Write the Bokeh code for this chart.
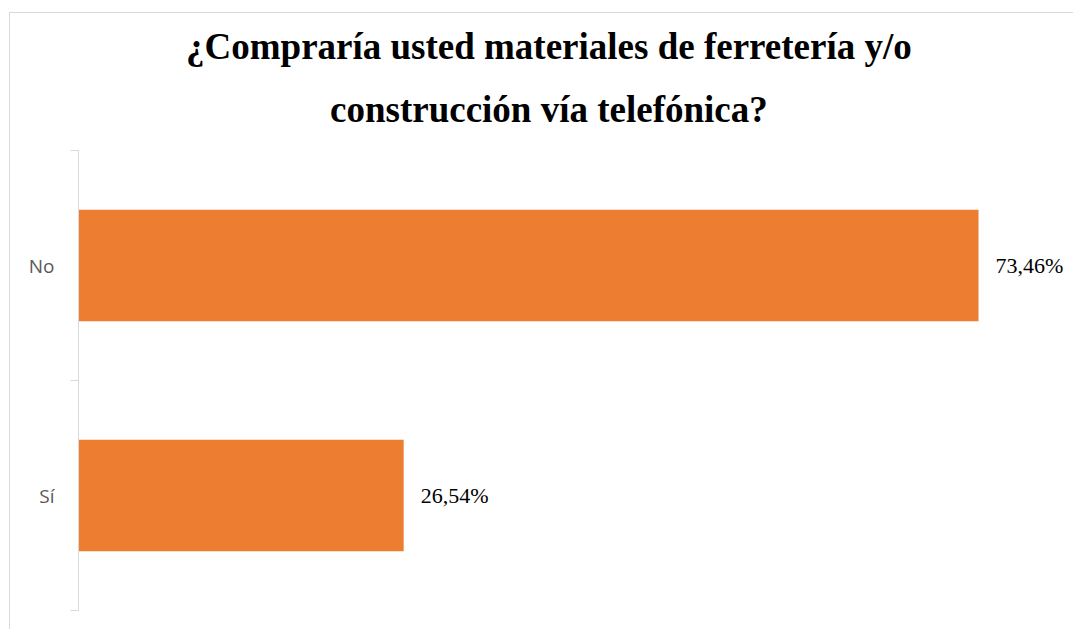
from bokeh.plotting import figure
from bokeh.models import (FactorRange, Range1d, LinearAxis, FixedTicker, ColumnDataSource,
                          LabelSet, CategoricalAxis, Title)
from bokeh.embed import file_html
from bokeh.resources import INLINE

categories = ["Sí", "No"]
values = [26.54, 73.46]
labels = ["26,54%", "73,46%"]
title_lines = ["¿Compraría usted materiales de ferretería y/o",
               "construcción vía telefónica?"]

src = ColumnDataSource(dict(cat=categories, val=values, lab=labels))

p = figure(width=1064, height=617, output_backend="svg", toolbar_location=None,
           y_range=FactorRange(factors=categories, range_padding=0),
           x_range=Range1d(0, 80.56),
           min_border_left=68, min_border_right=9, min_border_top=137, min_border_bottom=20,
           x_axis_location=None, y_axis_location=None)
p.margin = (12, 0, 0, 9)
p.styles = {"border-left": "1px solid #d9d9d9", "border-top": "1px solid #d9d9d9"}

# title: two centred lines, bottom line added first (stack grows outward);
# trailing no-break spaces shift the visual centre left onto the chart centre
pad = "\u00a0" * 5
for i, line in enumerate(reversed(title_lines)):
    p.add_layout(Title(text=line + pad, align="center", text_font="Liberation Serif",
                       text_font_style="bold", text_font_size="37px",
                       text_color="#000000", standoff=41 if i == 0 else 0,
                       text_line_height=1.0), "above")

p.hbar(y="cat", right="val", left=0, height=0.485, source=src,
       fill_color="#ED7D31", line_color=None)

lbl = LabelSet(x="val", y="cat", text="lab", source=src, x_offset=17,
               text_baseline="middle", text_font="Liberation Serif",
               text_font_size="22px", text_color="#000000")
p.add_layout(lbl)

# tick axis at the category boundaries (synthetic coordinates 0, 1, 2)
tick_axis = LinearAxis(ticker=FixedTicker(ticks=[0, 1, 2]),
                       major_tick_out=8, major_tick_in=0, minor_tick_line_color=None,
                       major_tick_line_color="#d9d9d9", axis_line_color="#d9d9d9",
                       major_label_overrides={0: "", 1: "", 2: ""},
                       major_label_standoff=0)
p.add_layout(tick_axis, "left")

cat_axis = CategoricalAxis(axis_line_color=None, major_tick_line_color=None,
                           minor_tick_line_color=None, major_label_standoff=10,
                           major_label_text_font="Open Sans",
                           major_label_text_font_size="19px",
                           major_label_text_color="#595959")
p.add_layout(cat_axis, "left")

p.xgrid.grid_line_color = None
p.ygrid.grid_line_color = None
p.outline_line_color = None

open("out.html", "w").write(file_html(p, INLINE))
